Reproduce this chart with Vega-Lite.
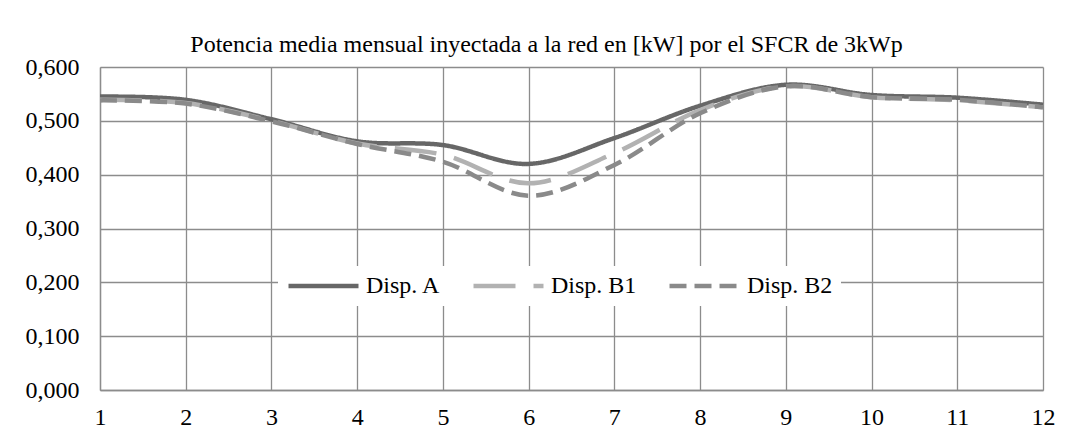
{
  "$schema": "https://vega.github.io/schema/vega-lite/v6.json",
  "autosize": {"type": "none"},
  "width": 943,
  "height": 323,
  "padding": {"left": 100, "top": 67, "right": 28, "bottom": 39},
  "background": "white",
  "title": {
    "text": "Potencia media mensual inyectada a la red en [kW] por el SFCR de 3kWp",
    "font": "Liberation Serif",
    "fontSize": 24,
    "fontWeight": "normal",
    "color": "#000000",
    "anchor": "middle",
    "baseline": "alphabetic",
    "offset": 15,
    "dx": -25,
    "dy": 36
  },
  "data": {
    "values": [
      {"mes": 1, "serie": "Disp. A", "kw": 0.545},
      {"mes": 2, "serie": "Disp. A", "kw": 0.539},
      {"mes": 3, "serie": "Disp. A", "kw": 0.503},
      {"mes": 4, "serie": "Disp. A", "kw": 0.462},
      {"mes": 5, "serie": "Disp. A", "kw": 0.455},
      {"mes": 6, "serie": "Disp. A", "kw": 0.420},
      {"mes": 7, "serie": "Disp. A", "kw": 0.468},
      {"mes": 8, "serie": "Disp. A", "kw": 0.528},
      {"mes": 9, "serie": "Disp. A", "kw": 0.567},
      {"mes": 10, "serie": "Disp. A", "kw": 0.548},
      {"mes": 11, "serie": "Disp. A", "kw": 0.543},
      {"mes": 12, "serie": "Disp. A", "kw": 0.530},
      {"mes": 1, "serie": "Disp. B1", "kw": 0.539},
      {"mes": 2, "serie": "Disp. B1", "kw": 0.533},
      {"mes": 3, "serie": "Disp. B1", "kw": 0.500},
      {"mes": 4, "serie": "Disp. B1", "kw": 0.458},
      {"mes": 5, "serie": "Disp. B1", "kw": 0.437},
      {"mes": 6, "serie": "Disp. B1", "kw": 0.384},
      {"mes": 7, "serie": "Disp. B1", "kw": 0.440},
      {"mes": 8, "serie": "Disp. B1", "kw": 0.520},
      {"mes": 9, "serie": "Disp. B1", "kw": 0.564},
      {"mes": 10, "serie": "Disp. B1", "kw": 0.544},
      {"mes": 11, "serie": "Disp. B1", "kw": 0.538},
      {"mes": 12, "serie": "Disp. B1", "kw": 0.525},
      {"mes": 1, "serie": "Disp. B2", "kw": 0.538},
      {"mes": 2, "serie": "Disp. B2", "kw": 0.532},
      {"mes": 3, "serie": "Disp. B2", "kw": 0.499},
      {"mes": 4, "serie": "Disp. B2", "kw": 0.457},
      {"mes": 5, "serie": "Disp. B2", "kw": 0.424},
      {"mes": 6, "serie": "Disp. B2", "kw": 0.361},
      {"mes": 7, "serie": "Disp. B2", "kw": 0.418},
      {"mes": 8, "serie": "Disp. B2", "kw": 0.514},
      {"mes": 9, "serie": "Disp. B2", "kw": 0.564},
      {"mes": 10, "serie": "Disp. B2", "kw": 0.544},
      {"mes": 11, "serie": "Disp. B2", "kw": 0.539},
      {"mes": 12, "serie": "Disp. B2", "kw": 0.525}
    ]
  },
  "mark": {"type": "line", "interpolate": "cardinal", "strokeWidth": 4.5, "clip": false},
  "encoding": {
    "x": {
      "field": "mes",
      "type": "quantitative",
      "scale": {"domain": [1, 12], "nice": false, "zero": false},
      "axis": {
        "title": null,
        "values": [1, 2, 3, 4, 5, 6, 7, 8, 9, 10, 11, 12],
        "grid": true,
        "ticks": false,
        "labelPadding": 15,
        "labelFlush": false
      }
    },
    "y": {
      "field": "kw",
      "type": "quantitative",
      "scale": {"domain": [0, 0.6], "nice": false},
      "axis": {
        "title": null,
        "values": [0, 0.1, 0.2, 0.3, 0.4, 0.5, 0.6],
        "grid": true,
        "ticks": false,
        "domain": true,
        "labelPadding": 21,
        "labelExpr": "replace(format(datum.value, '.3f'), '.', ',')"
      }
    },
    "color": {
      "field": "serie",
      "type": "nominal",
      "scale": {"domain": ["Disp. A", "Disp. B1", "Disp. B2"], "range": ["#676767", "#b2b2b2", "#8a8a8a"]},
      "legend": {
        "title": null,
        "orient": "none",
        "direction": "horizontal",
        "legendX": 178,
        "legendY": 199,
        "fillColor": "white",
        "padding": 8,
        "clipHeight": 24,
        "symbolType": "stroke",
        "symbolSize": 4900,
        "symbolStrokeWidth": 4.5,
        "labelFont": "Liberation Serif",
        "labelFontSize": 24,
        "labelColor": "#000000",
        "labelOffset": 5,
        "columnPadding": 30
      }
    },
    "strokeDash": {
      "field": "serie",
      "type": "nominal",
      "scale": {"domain": ["Disp. A", "Disp. B1", "Disp. B2"], "range": [[1, 0], [42, 18], [17, 8]]},
      "legend": {
        "title": null,
        "orient": "none",
        "direction": "horizontal",
        "legendX": 178,
        "legendY": 199,
        "fillColor": "white",
        "padding": 8,
        "clipHeight": 24,
        "symbolType": "stroke",
        "symbolSize": 4900,
        "symbolStrokeWidth": 4.5,
        "labelFont": "Liberation Serif",
        "labelFontSize": 24,
        "labelColor": "#000000",
        "labelOffset": 5,
        "columnPadding": 30
      }
    }
  },
  "config": {
    "view": {"stroke": null},
    "axis": {
      "labelFont": "Liberation Serif",
      "labelFontSize": 24,
      "labelColor": "#000000",
      "gridColor": "#8c8c8c",
      "gridWidth": 1.3,
      "gridOpacity": 1,
      "domainColor": "#8c8c8c",
      "domainWidth": 1.3
    }
  }
}
